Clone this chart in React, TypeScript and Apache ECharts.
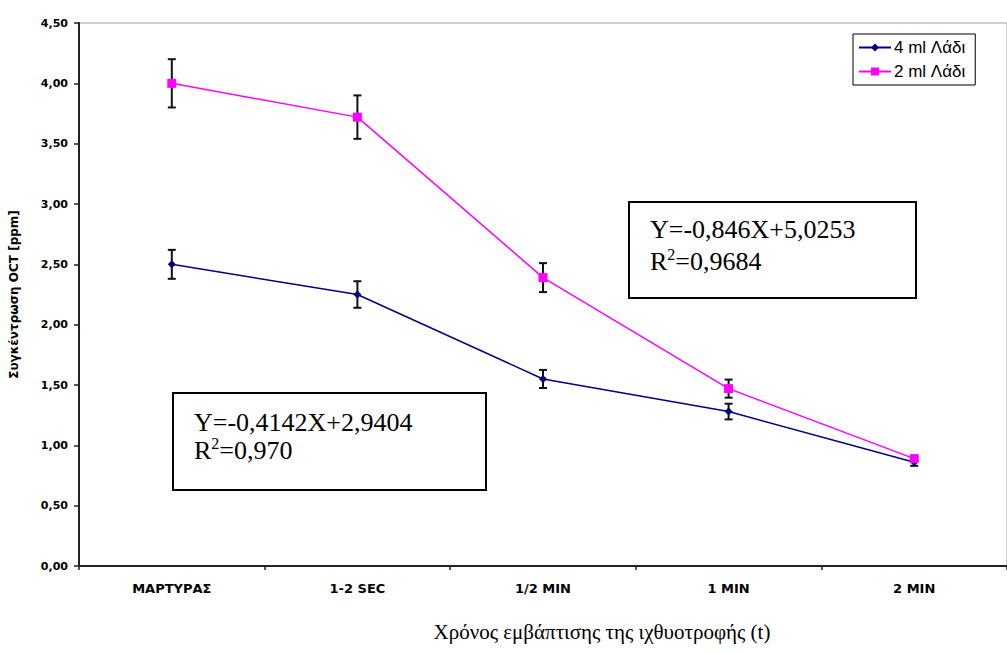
import React, { useEffect, useRef } from "react";
import * as echarts from "echarts";

const categories = ["ΜΑΡΤΥΡΑΣ", "1-2 SEC", "1/2 MIN", "1 MIN", "2 MIN"];
const oil4 = [2.5, 2.25, 1.55, 1.28, 0.86];
const oil4Err = [0.12, 0.11, 0.075, 0.065, 0.03];
const oil2 = [4.0, 3.72, 2.39, 1.47, 0.89];
const oil2Err = [0.2, 0.18, 0.12, 0.075, 0.02];
const seriesNames = ["4 ml Λάδι", "2 ml Λάδι"];
const yAxisTitle = "Συγκέντρωση OCT [ppm]";
const xAxisTitle = "Χρόνος εμβάπτισης της ιχθυοτροφής (t)";
const eq4 = ["Y=-0,4142X+2,9404", "0,970"];
const eq2 = ["Y=-0,846X+5,0253", "0,9684"];

const serif = "'Liberation Serif', 'Times New Roman', serif";
const sans = "'DejaVu Sans', sans-serif";

function errData(vals: number[], errs: number[]) {
  return vals.map((v, i) => [i, v - errs[i], v + errs[i]]);
}

function renderErr(params: any, api: any) {
  const x = api.value(0);
  const lo = api.coord([x, api.value(1)]);
  const hi = api.coord([x, api.value(2)]);
  const cap = 4;
  const style = { stroke: "#111", lineWidth: 2 };
  return {
    type: "group",
    children: [
      { type: "line", shape: { x1: lo[0], y1: lo[1], x2: hi[0], y2: hi[1] }, style },
      { type: "line", shape: { x1: lo[0] - cap, y1: lo[1], x2: lo[0] + cap, y2: lo[1] }, style },
      { type: "line", shape: { x1: hi[0] - cap, y1: hi[1], x2: hi[0] + cap, y2: hi[1] }, style },
    ],
  };
}

function eqBox(x: number, y: number, w: number, h: number, lines: string[], ty: number[]) {
  return {
    type: "group",
    children: [
      { type: "rect", shape: { x, y, width: w, height: h }, style: { fill: "#fff", stroke: "#000", lineWidth: 2 } },
      {
        type: "text",
        x: x + 21,
        y: ty[0],
        style: { text: lines[0], font: `26px ${serif}`, fill: "#000", verticalAlign: "middle" },
      },
      {
        type: "text",
        x: x + 21,
        y: ty[1],
        style: {
          text: `{a|R}{b|2}{a|=${lines[1]}}`,
          fill: "#000",
          verticalAlign: "middle",
          rich: {
            a: { fontSize: 26, fontFamily: serif, lineHeight: 30 },
            b: { fontSize: 16, fontFamily: serif, lineHeight: 30, padding: [0, 0, 14, 0] },
          },
        },
      },
    ],
  };
}

export default function App() {
  const ref = useRef<HTMLDivElement>(null);
  useEffect(() => {
    if (!ref.current) return;
    const chart = echarts.init(ref.current, undefined, { renderer: "svg" });
    chart.setOption({
      animation: false,
      backgroundColor: "#fff",
      grid: {
        left: 78,
        top: 23,
        width: 940,
        height: 543,
        show: true,
        borderColor: "#a0a0a0",
        borderWidth: 1,
      },
      legend: {
        orient: "vertical",
        left: 853,
        top: 34,
        data: seriesNames,
        itemWidth: 32,
        itemHeight: 10,
        itemGap: 7,
        padding: [5, 10, 5, 5],
        borderColor: "#000",
        borderWidth: 1,
        backgroundColor: "#fff",
        textStyle: { fontFamily: "'Liberation Sans', Arial, sans-serif", fontSize: 17, color: "#000", padding: [0, 0, 0, -2] },
      },
      xAxis: {
        type: "category",
        data: categories,
        boundaryGap: true,
        axisLine: { lineStyle: { color: "#222", width: 2 } },
        axisTick: { show: true, length: 4, lineStyle: { color: "#222", width: 1.5 } },
        axisLabel: { margin: 16, fontFamily: sans, fontWeight: "bold", fontSize: 13, color: "#000" },
        splitLine: { show: false },
      },
      yAxis: {
        type: "value",
        min: 0,
        max: 4.5,
        interval: 0.5,
        name: yAxisTitle,
        nameLocation: "middle",
        nameGap: 59,
        nameTextStyle: { fontFamily: sans, fontWeight: "bold", fontSize: 12, color: "#000" },
        axisLine: { show: true, lineStyle: { color: "#222", width: 2 } },
        axisTick: { show: true, length: 5, lineStyle: { color: "#222", width: 1.5 } },
        axisLabel: {
          margin: 11,
          fontFamily: sans,
          fontWeight: "bold",
          fontSize: 11,
          color: "#000",
          formatter: (v: number) => v.toFixed(2).replace(".", ","),
        },
        splitLine: { show: false },
      },
      series: [
        {
          type: "custom",
          name: "err4",
          data: errData(oil4, oil4Err),
          renderItem: renderErr,
          z: 1,
          silent: true,
        },
        {
          type: "custom",
          name: "err2",
          data: errData(oil2, oil2Err),
          renderItem: renderErr,
          z: 1,
          silent: true,
        },
        {
          type: "line",
          name: seriesNames[0],
          data: oil4,
          color: "#000080",
          lineStyle: { color: "#000080", width: 1.5 },
          symbol: "diamond",
          symbolSize: 8,
          itemStyle: { color: "#000080" },
          z: 3,
        },
        {
          type: "line",
          name: seriesNames[1],
          data: oil2,
          color: "#ff00ff",
          lineStyle: { color: "#ff00ff", width: 1.5 },
          symbol: "rect",
          symbolSize: 9,
          itemStyle: { color: "#ff00ff" },
          z: 4,
        },
      ],
      graphic: [
        eqBox(629, 202, 287, 96, eq2, [229, 261]),
        eqBox(173, 393, 313, 97, eq4, [422, 450]),
        {
          type: "text",
          x: 602,
          y: 632,
          style: {
            text: xAxisTitle,
            font: `21px ${serif}`,
            fill: "#000",
            align: "center",
            verticalAlign: "middle",
          },
        },
      ],
    });
    return () => chart.dispose();
  }, []);
  return (
    <div
      ref={ref}
      style={{ position: "absolute", left: 0, top: 0, width: 1007, height: 653, background: "#fff" }}
    />
  );
}
